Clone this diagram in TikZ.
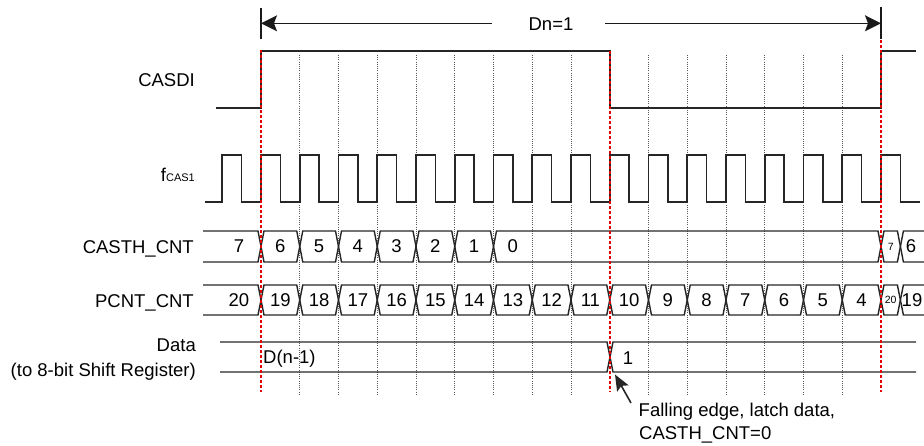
\documentclass[tikz,border=0pt]{standalone}
\usepackage{fontspec}
\setmainfont{Liberation Sans}
\usetikzlibrary{arrows.meta}
\begin{document}
\begin{tikzpicture}[x=1pt,y=-1pt,
  font=\fontsize{18.5}{22}\selectfont,
  sig/.style={line width=1.6pt, draw=black!85, line join=miter},
  bus/.style={line width=1.4pt, draw=black!85, line join=miter},
  gridln/.style={line width=0.7pt, draw=black!65, dash pattern=on 1pt off 1.2pt},
  redln/.style={line width=1.2pt, draw=red!90!black, dash pattern=on 3pt off 2pt},
  dimln/.style={line width=1.3pt, draw=black!90},
  lbl/.style={anchor=base east, inner sep=0pt},
  val/.style={inner sep=0pt},
  smallval/.style={inner sep=0pt, font=\fontsize{10.5}{12}\selectfont}]
\useasboundingbox (0,0) rectangle (924,445);
\def\T{38.75}
\def\h{3}
% ---------- grid lines ----------
\foreach \k in {1,...,8,10,11,12,13,14,15}
  \draw[gridln] ({261+\T*\k},55) -- ({261+\T*\k},395);
% ---------- left labels ----------
\node[lbl] (lcasdi) at (195,86.7) {CASDI};
\node[lbl] (lclk) at (195,181.7) {f{\fontsize{11}{12}\selectfont CAS1}};
\node[lbl] (lcasth) at (194,253.3) {CASTH\_CNT};
\node[lbl] (lpcnt) at (194,307) {PCNT\_CNT};
\node[lbl] (ldata) at (196,351) {Data};
\node[lbl] (ldata2) at (196,376.5) {(to 8-bit Shift Register)};
% ---------- Dn=1 dimension ----------
\coordinate (tickL1) at (261,8);  \coordinate (tickL2) at (261,39);
\coordinate (tickR1) at (881,7);  \coordinate (tickR2) at (881,39);
\coordinate (dimL) at (261,23.3); \coordinate (dimR) at (881,23.3);
\coordinate (dimLs) at (492,23.3); \coordinate (dimRs) at (605,23.3);
\draw[dimln] (tickL1) -- (tickL2);
\draw[dimln] (tickR1) -- (tickR2);
\draw[dimln, -{Stealth[length=16pt,width=16pt,inset=3pt]}] (dimLs) -- (dimL);
\draw[dimln, -{Stealth[length=16pt,width=16pt,inset=3pt]}] (dimRs) -- (dimR);
\node[anchor=base, inner sep=0pt] (dn) at (551,30) {Dn=1};
% ---------- CASDI ----------
\draw[sig] (216,108) -- (261,108) -- (261,51) -- (610,51) -- (610,108) -- (881,108) -- (881,51) -- (916,51);
% ---------- clock ----------
\draw[sig] (205,202) \foreach \k in {0,...,17} { -- ({222.25+\T*\k},202) -- ++(0,-47) -- ++(19.375,0) -- ++(0,47) } -- (920,202);
% ---------- CASTH_CNT bus ----------
\def\yt{231}\def\yb{262}\def\ym{246.5}
\draw[bus] (203,\yt) -- ({261-\h},\yt) -- (261,\ym) -- ({261-\h},\yb) -- (203,\yb);
\foreach \a/\b in {261/299.75, 299.75/338.5, 338.5/377.25, 377.25/416, 416/454.75, 454.75/493.5, 493.5/881, 881/900.4}
  \draw[bus] (\a,\ym) -- ({\a+\h},\yt) -- ({\b-\h},\yt) -- (\b,\ym) -- ({\b-\h},\yb) -- ({\a+\h},\yb) -- cycle;
\draw[bus] (924,\yt) -- ({900.4+\h},\yt) -- (900.4,\ym) -- ({900.4+\h},\yb) -- (924,\yb);
\node[val] at (239,\ym) {7};
\foreach \v [count=\i from 0] in {6,5,4,3,2,1,0}
  \node[val] at ({261+\T*\i+\T/2},\ym) {\v};
\node[smallval] at (890.7,\ym) {7};
\node[val] at (911,\ym) {6};
% ---------- PCNT_CNT bus ----------
\def\yt{285}\def\yb{315}\def\ym{300}
\draw[bus] (203,\yt) -- ({261-\h},\yt) -- (261,\ym) -- ({261-\h},\yb) -- (203,\yb);
\foreach \i in {0,...,15}
  \draw[bus] ({261+\T*\i},\ym) -- ({261+\T*\i+\h},\yt) -- ({261+\T*(\i+1)-\h},\yt) -- ({261+\T*(\i+1)},\ym) -- ({261+\T*(\i+1)-\h},\yb) -- ({261+\T*\i+\h},\yb) -- cycle;
\draw[bus] (881,\ym) -- ({881+\h},\yt) -- ({900.4-\h},\yt) -- (900.4,\ym) -- ({900.4-\h},\yb) -- ({881+\h},\yb) -- cycle;
\draw[bus] (924,\yt) -- ({900.4+\h},\yt) -- (900.4,\ym) -- ({900.4+\h},\yb) -- (924,\yb);
\node[val] at (239,\ym) {20};
\foreach \v [count=\i from 0] in {19,18,17,16,15,14,13,12,11,10,9,8,7,6,5,4}
  \node[val] at ({261+\T*\i+\T/2},\ym) {\v};
\node[smallval] at (890.7,\ym) {20};
\node[val] at (912,\ym) {19};
% ---------- Data bus ----------
\def\yt{342}\def\yb{372}\def\ym{357}
\draw[bus] (220,\yt) -- ({610-\h},\yt) -- (610,\ym) -- ({610-\h},\yb) -- (220,\yb);
\draw[bus] (916,\yt) -- ({610+\h},\yt) -- (610,\ym) -- ({610+\h},\yb) -- (916,\yb);
\node[val, anchor=west] (dprev) at (263,358.5) {D(n-1)};
\node[val] (dnew) at (628,358.5) {1};
% ---------- red markers ----------
\draw[redln] (261,50) -- (261,392);
\draw[redln] (610,51) -- (610,392);
\draw[redln] (881,40) -- (881,392);
% ---------- annotation ----------
\coordinate (atail) at (631,403);
\coordinate (atip) at (615,374.5);
\draw[line width=1.6pt, draw=black!85, -{Stealth[length=16pt,width=13pt,inset=3pt]}] (atail) -- (atip);
\node[anchor=base west, inner sep=0pt] (note1) at (638.5,416.5) {Falling edge, latch data,};
\node[anchor=base west, inner sep=0pt] (note2) at (639,439) {CASTH\_CNT=0};
\end{tikzpicture}
\end{document}
